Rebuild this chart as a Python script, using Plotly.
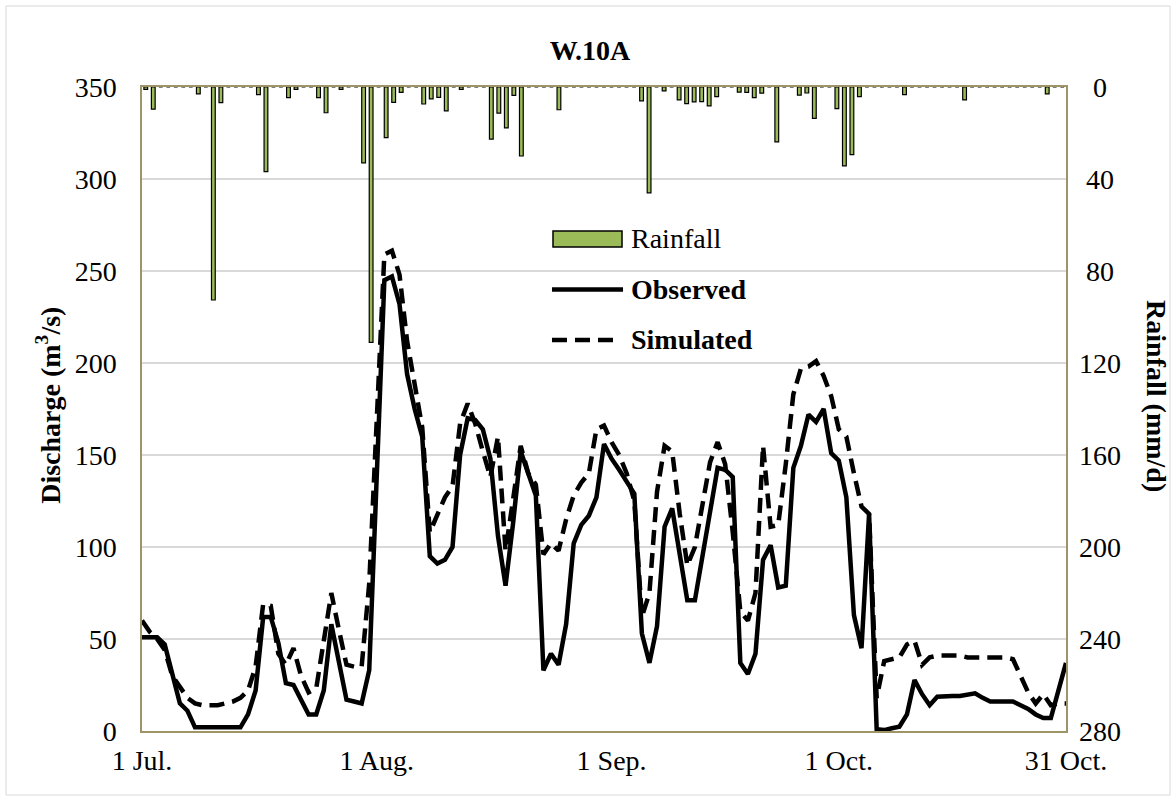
import pandas as pd
import plotly.graph_objects as go

# ---------------- data ----------------
dates = [d.strftime("%Y-%m-%d") for d in pd.date_range("2019-07-01", "2019-10-31", freq="D")]

observed = [51, 51, 51, 47, 31, 15, 11, 2, 2, 2,
            2, 2, 2, 2, 9, 22, 62, 62, 48, 26,
            25, 17, 9, 9, 22, 58, 38, 17, 16, 15,
            33, 140, 245, 247, 232, 194, 175, 160, 95, 91,
            93, 100, 150, 170, 169, 164, 148, 106, 79, 113,
            152, 140, 128, 33, 42, 36, 58, 102, 112, 117,
            127, 156, 148, 142, 135, 129, 53, 37, 57, 111,
            121, 96, 71, 71, 95, 119, 143, 142, 138, 37,
            31, 42, 93, 101, 78, 79, 143, 155, 172, 168,
            175, 151, 147, 127, 63, 45, 118, 1, 0.5, 1.5,
            2.3, 9, 27.7, 20, 14, 18.6, 19, 19, 19, 20,
            20.5, 18, 16, 16, 16, 16, 14, 12, 9, 7,
            7, 22, 37]

simulated = [60, 54, 50, 44, 30, 24, 18, 15, 14, 14,
             14, 15, 16, 18, 22, 35, 69, 68, 42, 36,
             45, 30, 21, 23, 48, 75, 55, 36, 35, 35,
             80, 170, 259, 261, 248, 212, 188, 165, 108, 118,
             127, 133, 167, 178, 167, 152, 138, 160, 98, 126,
             155, 140, 134, 96, 102, 98, 115, 128, 135, 140,
             164, 166, 157, 150, 140, 125, 62, 75, 130, 155,
             152, 118, 90, 100, 122, 146, 157, 145, 108, 65,
             60, 75, 155, 111, 112, 145, 183, 197, 198, 201,
             193, 182, 164, 160, 140, 122, 118, 18, 38, 39,
             40, 47, 49, 36, 40, 41, 41, 41, 41, 40,
             40, 40, 40, 40, 40, 39, 30, 21, 15, 20,
             14, 15, 15]

rain_events = {0: 1, 1: 9.6, 7: 3, 9: 92.6, 10: 6.8, 15: 3.3, 16: 36.8, 19: 4.6,
               20: 1, 23: 4.6, 24: 11.2, 26: 1, 29: 33, 30: 111, 32: 22, 33: 6.7,
               34: 2.3, 37: 7.4, 38: 5.2, 39: 4.5, 40: 10.4, 42: 1, 46: 22.7,
               47: 11.4, 48: 17.8, 49: 3.6, 50: 30, 55: 9.9, 66: 6, 67: 46,
               69: 1.7, 71: 5.6, 72: 7.2, 73: 6.5, 74: 6.4, 75: 8.2, 76: 4.2,
               79: 2.2, 80: 2.3, 81: 4.6, 82: 2.7, 84: 23.9, 87: 3.5, 88: 2.6,
               89: 13.6, 92: 9.4, 93: 34.3, 94: 29.4, 95: 4.2, 101: 3.3,
               109: 5.6, 120: 3}
rainfall = [rain_events.get(i, 0) for i in range(len(dates))]

x_tick_dates = ["2019-07-01", "2019-08-01", "2019-09-01", "2019-10-01", "2019-10-31"]
x_tick_text = ["1 Jul.", "1 Aug.", "1 Sep.", "1 Oct.", "31 Oct."]
q_ticks = [0, 50, 100, 150, 200, 250, 300, 350]
rain_ticks = [0, 40, 80, 120, 160, 200, 240, 280]

# ---------------- style ----------------
FONT = "Liberation Serif, Times New Roman, serif"
OLIVE = "#9d9468"
GRID = "#d9d9d9"
GREEN = "#9BBB59"
FS = 28

fig = go.Figure()

fig.add_trace(go.Bar(
    x=dates, y=rainfall, xaxis="x2", yaxis="y2", name="Rainfall",
    width=0.5, marker=dict(color=GREEN, line=dict(color="black", width=1.2)),
    showlegend=False))

fig.add_trace(go.Scatter(
    x=dates, y=simulated, mode="lines", name="Simulated",
    line=dict(color="black", width=4.5, dash="15px,8px"), showlegend=False))

fig.add_trace(go.Scatter(
    x=dates, y=observed, mode="lines", name="Observed",
    line=dict(color="black", width=4.5), showlegend=False))

annotations = []
# right-axis tick labels (centred as in the reference)
for v in rain_ticks:
    annotations.append(dict(x=1.0368, xref="paper", y=v, yref="y2", text=str(v),
                            showarrow=False, xanchor="center", yanchor="middle",
                            font=dict(family=FONT, size=FS, color="black")))
# axis titles
annotations.append(dict(x=-0.1006, xref="paper", y=0.505, yref="paper",
                        text="<b>Discharge (m<sup>3</sup>/s)</b>", textangle=-90,
                        showarrow=False, xanchor="center", yanchor="middle",
                        font=dict(family=FONT, size=FS, color="black")))
annotations.append(dict(x=1.0985, xref="paper", y=0.52, yref="paper",
                        text="<b>Rainfall (mm/d)</b>", textangle=90,
                        showarrow=False, xanchor="center", yanchor="middle",
                        font=dict(family=FONT, size=FS, color="black")))
# legend texts
legend_items = [("Rainfall", 0.7640, False), ("Observed", 0.6848, True), ("Simulated", 0.6079, True)]
for txt, yy, bold in legend_items:
    annotations.append(dict(x=0.5271, xref="paper", y=yy, yref="paper",
                            text=f"<b>{txt}</b>" if bold else txt,
                            showarrow=False, xanchor="left", yanchor="middle",
                            font=dict(family=FONT, size=FS, color="black")))

shapes = [
    # outer chart border
    dict(type="rect", xref="paper", yref="paper", x0=-0.1472, x1=1.1126, y0=-0.0994, y1=1.1258,
         line=dict(color=GRID, width=1), layer="below"),
    # legend swatches
    dict(type="rect", xref="paper", yref="paper", x0=0.4448, x1=0.5195, y0=0.7516, y1=0.7764,
         fillcolor=GREEN, line=dict(color="black", width=1.5)),
    dict(type="line", xref="paper", yref="paper", x0=0.4437, x1=0.5206, y0=0.6856, y1=0.6856,
         line=dict(color="black", width=4.5)),
    dict(type="line", xref="paper", yref="paper", x0=0.4437, x1=0.5108, y0=0.6071, y1=0.6071,
         line=dict(color="black", width=4.5, dash="15px,8px")),
]

fig.update_layout(
    width=1176, height=801,
    margin=dict(l=142, r=110, t=87, b=70),
    paper_bgcolor="white", plot_bgcolor="white",
    font=dict(family=FONT, size=FS, color="black"),
    title=dict(text="<b>W.10A</b>", x=0.5017, xref="container", y=1 - 50 / 801,
               yref="container", xanchor="center", yanchor="middle",
               font=dict(family=FONT, size=FS, color="black")),
    xaxis=dict(type="date", range=[dates[0], dates[-1]], tickmode="array",
               tickvals=x_tick_dates, ticktext=x_tick_text, showgrid=False,
               showline=True, linecolor=OLIVE, linewidth=1.5, mirror=True,
               ticks="", ticklabelstandoff=4, zeroline=False,
               tickfont=dict(family=FONT, size=FS, color="black")),
    yaxis=dict(range=[0, 350], tickmode="array", tickvals=q_ticks,
               showgrid=True, gridcolor=GRID, gridwidth=1.5, zeroline=False,
               showline=True, linecolor=OLIVE, linewidth=1.5, mirror=True,
               ticks="", ticklabelstandoff=18,
               tickfont=dict(family=FONT, size=FS, color="black")),
    xaxis2=dict(type="category", overlaying="x", anchor="y2", range=[-0.5, len(dates) - 0.5],
                showgrid=False, showticklabels=False, showline=False, zeroline=False, ticks=""),
    yaxis2=dict(overlaying="y", anchor="x2", side="right", range=[280, 0],
                showgrid=False, showticklabels=False, showline=False, zeroline=False, ticks=""),
    bargap=0.5,
    annotations=annotations,
    shapes=shapes,
)

fig.write_html("out.html", config={"displayModeBar": False},
               post_script="document.body.style.margin='0';document.body.style.overflow='hidden';")
